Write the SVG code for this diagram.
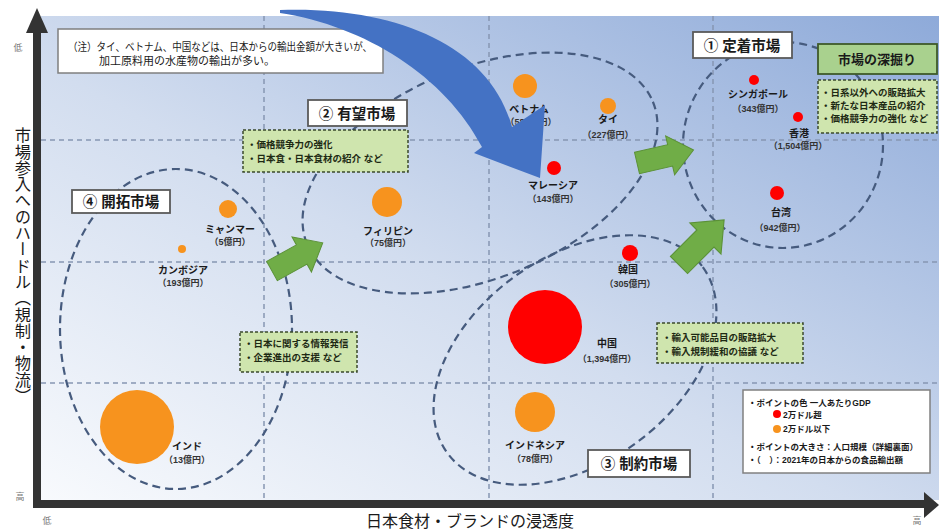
<svg xmlns="http://www.w3.org/2000/svg" width="939" height="530" viewBox="0 0 939 530">
<defs>
<linearGradient id="bg" x1="0" y1="1" x2="1" y2="0">
<stop offset="0" stop-color="#f8fafd"/>
<stop offset="0.45" stop-color="#d2ddef"/>
<stop offset="1" stop-color="#8eaad9"/>
</linearGradient>
<path id="garrow" d="M0,-11 H34 V-20 L58,0 L34,20 V11 H0 Z"/>
<style>
text{font-family:"Liberation Sans","Noto Sans CJK JP","Noto Sans CJK SC",sans-serif;fill:#1a1a1a}
.grid{stroke:#8797b2;stroke-width:1.5;stroke-dasharray:5 4;fill:none}
.region{fill:none;stroke:#465b7e;stroke-width:2.2;stroke-dasharray:8 5}
.lbox{fill:#fff;stroke:#5a5a5a;stroke-width:1.8}
.ltxt{font-size:14.5px;font-weight:bold;text-anchor:middle}
.gbox{fill:#cfe5ae;stroke:#3b4a2c;stroke-width:1.5;stroke-dasharray:3 2}
.gtxt{font-size:9.5px;font-weight:bold;fill:#1e2a14}
.red{fill:#ff0000}
.org{fill:#f7931e}
.pn{font-size:10px;font-weight:bold;text-anchor:middle}
.pv{font-size:9px;font-weight:bold;text-anchor:middle;fill:#333}
.garr{fill:#70ad47;stroke:#5b9137;stroke-width:1}
.axis{stroke:#333;stroke-width:8;fill:none}
.tick{font-size:9px;fill:#777}
.leg{font-size:8.5px;font-weight:bold}
</style>
</defs>

<rect id="plot-bg" x="41" y="16" width="898" height="484" fill="url(#bg)"/>

<g id="grid">
<line class="grid" x1="41" y1="140" x2="939" y2="140"/>
<line class="grid" x1="41" y1="262" x2="939" y2="262"/>
<line class="grid" x1="41" y1="383" x2="939" y2="383"/>
<line class="grid" x1="264" y1="16" x2="264" y2="500"/>
<line class="grid" x1="489" y1="16" x2="489" y2="500"/>
<line class="grid" x1="713" y1="16" x2="713" y2="500"/>
</g>

<g id="regions">
<ellipse id="region1" class="region" cx="783" cy="145" rx="100" ry="103"/>
<ellipse id="region2" class="region" cx="480" cy="173" rx="187" ry="105" transform="rotate(-22.4 480 173)"/>
<ellipse id="region3" class="region" cx="575" cy="360" rx="158" ry="103" transform="rotate(-36 575 360)"/>
<ellipse id="region4" class="region" cx="176" cy="329" rx="116" ry="160"/>
</g>

<g id="note">
<rect x="58" y="29" width="325" height="44" fill="#fff" stroke="#7f7f7f" stroke-width="1.5"/>
<text x="68" y="51" font-size="11" textLength="304" lengthAdjust="spacingAndGlyphs">（注）タイ、ベトナム、中国などは、日本からの輸出金額が大きいが、</text>
<text x="99" y="65" font-size="11">加工原料用の水産物の輸出が多い。</text>
</g>

<g id="market1">
<rect class="lbox" x="693" y="32" width="99" height="26"/>
<text class="ltxt" x="742" y="51">① 定着市場</text>
<rect x="818" y="44" width="119" height="30" fill="#a9d18e" stroke="#3f5a2a" stroke-width="1.8"/>
<text x="877" y="64" font-size="13" font-weight="bold" text-anchor="middle">市場の深掘り</text>
<rect class="gbox" x="818" y="80" width="119" height="53"/>
<text class="gtxt" x="821" y="96">・日系以外への販路拡大</text>
<text class="gtxt" x="821" y="109">・新たな日本産品の紹介</text>
<text class="gtxt" x="821" y="122">・価格競争力の強化 など</text>
</g>

<g id="market2">
<rect class="lbox" x="308" y="100" width="99" height="26"/>
<text class="ltxt" x="357" y="119">② 有望市場</text>
<rect class="gbox" x="243" y="130" width="165" height="42"/>
<text class="gtxt" x="247" y="148">・価格競争力の強化</text>
<text class="gtxt" x="247" y="162">・日本食・日本食材の紹介 など</text>
</g>

<g id="market3">
<rect class="lbox" x="588" y="450" width="102" height="27"/>
<text class="ltxt" x="639" y="469">③ 制約市場</text>
<rect class="gbox" x="657" y="323" width="146" height="40"/>
<text class="gtxt" x="662" y="341">・輸入可能品目の販路拡大</text>
<text class="gtxt" x="662" y="355">・輸入規制緩和の協議 など</text>
</g>

<g id="market4">
<rect class="lbox" x="72" y="190" width="98" height="23"/>
<text class="ltxt" x="121" y="207">④ 開拓市場</text>
<rect class="gbox" x="240" y="332" width="117" height="40"/>
<text class="gtxt" x="244" y="347">・日本に関する情報発信</text>
<text class="gtxt" x="244" y="361">・企業進出の支援 など</text>
</g>

<g id="vietnam"><circle class="org" cx="525" cy="86" r="12"/><text class="pn" x="529" y="113">ベトナム</text><text class="pv" x="531" y="125">（585億円）</text></g>
<g id="thailand"><circle class="org" cx="608" cy="106" r="8"/><text class="pn" x="608" y="123">タイ</text><text class="pv" x="608" y="138">（227億円）</text></g>
<g id="malaysia"><circle class="red" cx="554" cy="168" r="7"/><text class="pn" x="553" y="189">マレーシア</text><text class="pv" x="553" y="202">（143億円）</text></g>
<g id="singapore"><circle class="red" cx="754" cy="80" r="5"/><text class="pn" x="758" y="98">シンガポール</text><text class="pv" x="758" y="112">（343億円）</text></g>
<g id="hongkong"><circle class="red" cx="798" cy="117" r="5"/><text class="pn" x="799" y="137">香港</text><text class="pv" x="798" y="149">（1,504億円）</text></g>
<g id="taiwan"><circle class="red" cx="777" cy="193" r="7"/><text class="pn" x="781" y="216">台湾</text><text class="pv" x="780" y="231">（942億円）</text></g>
<g id="korea"><circle class="red" cx="630" cy="253" r="8"/><text class="pn" x="628" y="273">韓国</text><text class="pv" x="630" y="287">（305億円）</text></g>
<g id="china"><circle class="red" cx="545" cy="327" r="37"/><text class="pn" x="607" y="347">中国</text><text class="pv" x="607" y="362">（1,394億円）</text></g>
<g id="indonesia"><circle class="org" cx="535" cy="412" r="20"/><text class="pn" x="535" y="449">インドネシア</text><text class="pv" x="535" y="462">（78億円）</text></g>
<g id="philippines"><circle class="org" cx="387" cy="202" r="15"/><text class="pn" x="388" y="235">フィリピン</text><text class="pv" x="388" y="246">（75億円）</text></g>
<g id="myanmar"><circle class="org" cx="228" cy="209" r="9"/><text class="pn" x="230" y="233">ミャンマー</text><text class="pv" x="230" y="245">（5億円）</text></g>
<g id="cambodia"><circle class="org" cx="182" cy="249" r="4"/><text class="pn" x="183" y="274">カンボジア</text><text class="pv" x="183" y="286">（193億円）</text></g>
<g id="india"><circle class="org" cx="137" cy="427" r="37"/><text class="pn" x="187" y="450">インド</text><text class="pv" x="187" y="463">（13億円）</text></g>

<g id="legend">
<rect x="743" y="390" width="187" height="83" fill="#fff" stroke="#808080" stroke-width="1.5"/>
<text class="leg" x="748" y="406">・ポイントの色 一人あたりGDP</text>
<circle class="red" cx="777" cy="414" r="4"/>
<text class="leg" x="783" y="418" font-weight="normal">2万ドル超</text>
<circle class="org" cx="777" cy="429" r="4"/>
<text class="leg" x="783" y="432" font-weight="normal">2万ドル以下</text>
<text class="leg" x="748" y="450">・ポイントの大きさ：人口規模（詳細裏面）</text>
<text class="leg" x="748" y="463">・（　）：2021年の日本からの食品輸出額</text>
</g>

<g id="connectors">
<use href="#garrow" class="garr" transform="translate(272 271) rotate(-29)"/>
<use href="#garrow" class="garr" transform="translate(637 163) rotate(-13)"/>
<use href="#garrow" class="garr" transform="translate(679 265) rotate(-45) scale(1.1)"/>
<path id="blue-arrow" fill="#4472c4" d="M280,10 C395,6 490,45 512,127 L545,105 L540,178 L474,153 L482,147 C445,76 365,26 280,13 Z"/>
</g>

<g id="axes">
<line class="axis" x1="37" y1="30" x2="37" y2="508"/>
<polygon points="37,8 26,33 48,33" fill="#333"/>
<line class="axis" x1="33" y1="504" x2="926" y2="504"/>
<polygon points="939,505 924,492 924,518" fill="#333"/>
<text class="tick" x="18" y="51" text-anchor="middle">低</text>
<text class="tick" x="20" y="500" text-anchor="middle">高</text>
<text class="tick" x="47" y="524" text-anchor="middle">低</text>
<text class="tick" x="917" y="524" text-anchor="middle">高</text>
<text x="22" y="127" font-size="16.3" style="writing-mode:vertical-rl" fill="#222">市場参入へのハードル（規制・物流）</text>
<text x="470" y="527" font-size="16" text-anchor="middle" fill="#222">日本食材・ブランドの浸透度</text>
</g>
</svg>
